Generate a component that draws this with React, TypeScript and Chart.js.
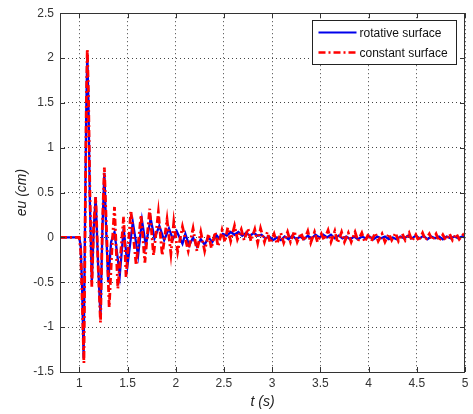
import React, { useEffect, useRef } from "react";
import { Chart, registerables } from "chart.js";

Chart.register(...registerables);

// ---- data ----
const rotTimes = [
  0.8, 1.0, 1.015, 1.03, 1.045, 1.06, 1.072, 1.083, 1.095, 1.11, 1.13, 1.15, 1.17, 1.195, 1.22, 1.24, 1.26, 1.28, 1.3, 1.33,
  1.365, 1.42, 1.46, 1.5, 1.555, 1.61, 1.65, 1.69, 1.74, 1.78, 1.83, 1.88, 1.93, 1.97, 2.01, 2.07, 2.1, 2.14, 2.18, 2.22,
  2.26, 2.3, 2.34, 2.38, 2.42, 2.45, 2.49, 2.53, 2.57, 2.61, 2.65, 2.69, 2.73, 2.77, 2.81, 2.85, 2.89, 2.93, 2.97, 3.01,
  3.05, 3.09, 3.13, 3.17, 3.21, 3.25, 3.29, 3.33, 3.37, 3.41, 3.45, 3.49, 3.53, 3.57, 3.61, 3.65, 3.69, 3.73, 3.77, 3.81,
  3.85, 3.89, 3.93, 3.97, 4.01, 4.05, 4.09, 4.13, 4.17, 4.21, 4.25, 4.29, 4.33, 4.37, 4.41, 4.45, 4.49, 4.53, 4.57, 4.61,
  4.65, 4.69, 4.73, 4.77, 4.81, 4.85, 4.89, 4.93, 4.97, 5.0,
];
const rotValues = [
  0, 0, -0.1, -0.6, -1.35, 0.2, 1.4, 2.05, 1.5, 0.4, -0.5, 0.1, 0.45, -0.3, -0.88, 0.1, 0.72, 0.05, -0.5, -0.05,
  0.06, -0.42, 0.1, -0.31, 0.17, -0.2, 0.19, -0.09, 0.21, -0.01, 0.13, -0.03, 0.1, -0.02, 0.07, -0.07, 0.04, -0.09, 0.0, -0.1,
  -0.02, -0.08, 0.0, -0.05, 0.03, -0.01, 0.04, 0.02, 0.06, 0.03, 0.06, 0.02, 0.05, 0.02, 0.05, 0.02, 0.03, -0.01, 0.01, -0.03,
  0.0, -0.03, 0.01, -0.02, 0.02, -0.02, 0.01, -0.02, 0.02, -0.01, 0.03, 0.0, 0.03, 0.0, 0.03, -0.01, 0.02, -0.01, 0.01, -0.02,
  0.01, -0.02, 0.01, -0.01, 0.01, -0.02, 0.01, -0.01, 0.01, -0.02, 0.0, -0.02, 0.01, -0.01, 0.02, -0.01, 0.02, -0.01, 0.02, -0.02,
  0.01, -0.01, 0.01, -0.02, 0.01, -0.01, 0.01, -0.01, 0.01, 0.0,
];

const constTimes = [
  0.8, 1.0, 1.015, 1.03, 1.048, 1.062, 1.073, 1.083, 1.095, 1.11, 1.13, 1.15, 1.17, 1.195, 1.22, 1.24, 1.26, 1.285, 1.31, 1.34,
  1.365, 1.4, 1.46, 1.485, 1.535, 1.59, 1.64, 1.68, 1.73, 1.77, 1.82, 1.86, 1.91, 1.95, 1.98, 2.02, 2.07, 2.13, 2.18, 2.22,
  2.26, 2.3, 2.34, 2.37, 2.41, 2.44, 2.48, 2.51, 2.54, 2.57, 2.61, 2.64, 2.68, 2.71, 2.75, 2.78, 2.82, 2.85, 2.88, 2.92,
  2.95, 2.98, 3.02, 3.05, 3.09, 3.12, 3.16, 3.19, 3.23, 3.26, 3.3, 3.33, 3.37, 3.4, 3.44, 3.47, 3.51, 3.54, 3.58, 3.61,
  3.65, 3.68, 3.72, 3.75, 3.79, 3.82, 3.86, 3.89, 3.93, 3.96, 4.0, 4.03, 4.07, 4.1, 4.14, 4.17, 4.21, 4.24, 4.28, 4.31,
  4.35, 4.38, 4.42, 4.45, 4.49, 4.52, 4.56, 4.59, 4.63, 4.66, 4.7, 4.73, 4.77, 4.8, 4.84, 4.87, 4.91, 4.94, 4.98, 5.0,
];
const constValues = [
  0, 0, -0.15, -0.7, -1.4, 0.3, 1.5, 2.1, 1.6, 0.5, -0.55, 0.15, 0.45, -0.3, -0.95, 0.15, 0.78, 0.0, -0.78, -0.1,
  0.34, -0.57, 0.23, -0.44, 0.3, -0.31, 0.25, -0.28, 0.32, -0.2, 0.28, -0.2, 0.2, -0.18, 0.17, -0.16, 0.12, -0.15, 0.1, -0.15,
  0.06, -0.15, 0.04, -0.12, 0.06, -0.1, 0.08, -0.05, 0.11, -0.04, 0.13, -0.02, 0.09, -0.03, 0.1, -0.04, 0.09, -0.06, 0.1, -0.05,
  0.06, -0.06, 0.04, -0.07, 0.05, -0.06, 0.06, -0.05, 0.07, -0.05, 0.05, -0.04, 0.07, -0.06, 0.06, -0.05, 0.04, -0.03, 0.08, -0.05,
  0.07, -0.06, 0.06, -0.05, 0.05, -0.05, 0.06, -0.04, 0.05, -0.05, 0.04, -0.04, 0.05, -0.04, 0.04, -0.05, 0.04, -0.03, 0.05, -0.04,
  0.04, -0.03, 0.05, -0.04, 0.03, -0.04, 0.05, -0.03, 0.04, -0.03, 0.04, -0.04, 0.03, -0.03, 0.04, -0.03, 0.04, -0.02, 0.03, 0.0,
];

const xTickValues = [1, 1.5, 2, 2.5, 3, 3.5, 4, 4.5, 5];
const yTickValues = [-1.5, -1, -0.5, 0, 0.5, 1, 1.5, 2, 2.5];
const seriesLabels = ["rotative surface", "constant surface"];
const xTitle = "t (s)";
const yTitle = "eu (cm)";

const BLUE = "rgb(0,0,235)";
const RED = "rgb(255,0,0)";
const RED_DASH = [7, 3, 2, 3];

const framePlugin = {
  id: "matlabFrame",
  afterDatasetsDraw(chart: any) {
    const { ctx, chartArea } = chart;
    const { left, right, top, bottom } = chartArea;
    const xs = chart.scales.x;
    const ys = chart.scales.y;
    ctx.save();
    ctx.strokeStyle = "#333";
    ctx.lineWidth = 1;
    ctx.setLineDash([]);
    ctx.strokeRect(Math.round(left) + 0.5, Math.round(top) + 0.5, Math.round(right - left) - 1, Math.round(bottom - top));
    const tl = 5;
    ctx.beginPath();
    xs.ticks.forEach((t: any) => {
      const px = Math.round(xs.getPixelForValue(t.value)) + 0.5;
      ctx.moveTo(px, bottom);
      ctx.lineTo(px, bottom - tl);
      ctx.moveTo(px, top);
      ctx.lineTo(px, top + tl);
    });
    ys.ticks.forEach((t: any) => {
      const py = Math.round(ys.getPixelForValue(t.value)) + 0.5;
      ctx.moveTo(left, py);
      ctx.lineTo(left + tl, py);
      ctx.moveTo(right, py);
      ctx.lineTo(right - tl, py);
    });
    ctx.stroke();

    // legend box
    const bw = 144;
    const bh = 44;
    const bx = Math.round(right - 9 - bw) + 0.5;
    const by = Math.round(top + 7) + 0.5;
    ctx.fillStyle = "#fff";
    ctx.fillRect(bx, by, bw, bh);
    ctx.strokeStyle = "#222";
    ctx.strokeRect(bx, by, bw, bh);
    const rows = [
      { color: BLUE, dash: [] as number[], width: 2, label: seriesLabels[0], y: by + 12 },
      { color: RED, dash: RED_DASH, width: 2.5, label: seriesLabels[1], y: by + 32 },
    ];
    rows.forEach((r) => {
      ctx.beginPath();
      ctx.strokeStyle = r.color;
      ctx.lineWidth = r.width;
      ctx.setLineDash(r.dash);
      ctx.moveTo(bx + 6, r.y);
      ctx.lineTo(bx + 44, r.y);
      ctx.stroke();
      ctx.setLineDash([]);
      ctx.fillStyle = "#111";
      ctx.font = "12px 'Liberation Sans', Arial, sans-serif";
      ctx.textBaseline = "middle";
      ctx.textAlign = "left";
      ctx.fillText(r.label, bx + 47, r.y + 1);
    });
    ctx.restore();
  },
};

export default function App() {
  const ref = useRef<HTMLCanvasElement | null>(null);
  useEffect(() => {
    if (!ref.current) return;
    const tickFont = { family: "'Liberation Sans', Arial, sans-serif", size: 12 };
    const titleFont = { family: "'Liberation Sans', Arial, sans-serif", size: 14, style: "italic" as const };
    const chart = new Chart(ref.current, {
      type: "line",
      data: {
        datasets: [
          {
            label: seriesLabels[0],
            data: rotTimes.map((t, i) => ({ x: t, y: rotValues[i] })),
            borderColor: BLUE,
            borderWidth: 2.3,
            pointRadius: 0,
            tension: 0,
            order: 2,
          },
          {
            label: seriesLabels[1],
            data: constTimes.map((t, i) => ({ x: t, y: constValues[i] })),
            borderColor: RED,
            borderWidth: 2.8,
            borderDash: RED_DASH,
            pointRadius: 0,
            tension: 0,
            order: 1,
          },
        ],
      },
      options: {
        animation: false,
        responsive: false,
        devicePixelRatio: 1,
        layout: { padding: { top: 13, right: 8, left: 0, bottom: 0 } },
        plugins: { legend: { display: false }, tooltip: { enabled: false } },
        scales: {
          x: {
            type: "linear",
            min: 0.8,
            max: 5,
            afterBuildTicks: (s: any) => {
              s.ticks = xTickValues.map((v) => ({ value: v }));
            },
            afterFit: (s: any) => {
              s.height = 42;
            },
            ticks: {
              color: "#333",
              font: tickFont,
              padding: 4,
              maxRotation: 0,
              autoSkip: false,
              callback: (v: any) => String(v),
            },
            grid: { color: "#444", lineWidth: 1, drawTicks: false },
            border: { display: false, dash: [1, 3] },
            title: { display: true, text: xTitle, color: "#222", font: titleFont, padding: { top: 0, bottom: 3 } },
          },
          y: {
            type: "linear",
            min: -1.5,
            max: 2.5,
            afterBuildTicks: (s: any) => {
              s.ticks = yTickValues.map((v) => ({ value: v }));
            },
            afterFit: (s: any) => {
              s.width = 60;
            },
            ticks: {
              color: "#333",
              font: tickFont,
              padding: 6,
              autoSkip: false,
              callback: (v: any) => String(v),
            },
            grid: { color: "#444", lineWidth: 1, drawTicks: false },
            border: { display: false, dash: [1, 3] },
            title: { display: true, text: yTitle, color: "#222", font: titleFont, padding: { top: 14, bottom: 0 } },
          },
        },
      },
      plugins: [framePlugin],
    });
    return () => chart.destroy();
  }, []);
  return (
    <div style={{ position: "fixed", left: 0, top: 0, width: 473, height: 414, background: "#fff" }}>
      <canvas ref={ref} width={473} height={414} style={{ width: 473, height: 414, display: "block" }} />
    </div>
  );
}
